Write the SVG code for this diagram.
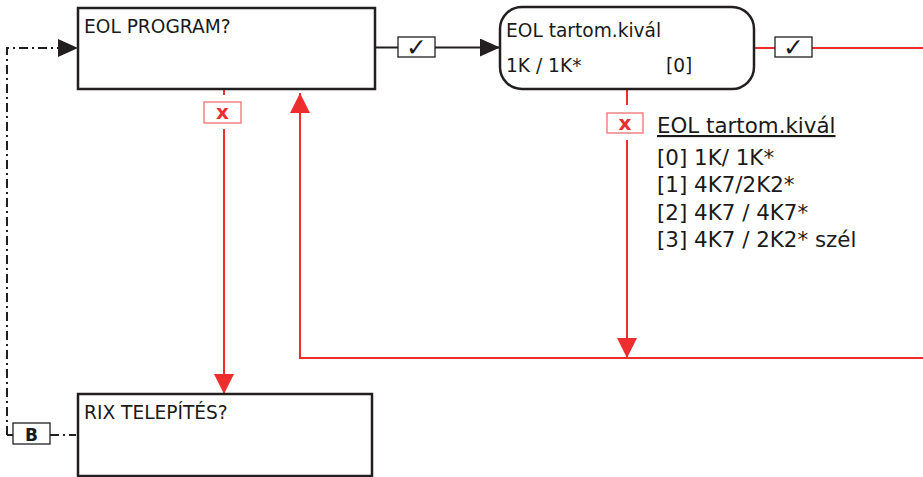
<svg xmlns="http://www.w3.org/2000/svg" width="923" height="477" viewBox="0 0 923 477">
<style>
.t{font-family:"DejaVu Sans",Verdana,sans-serif;font-size:18.6px;fill:#1a1a1a}
.lg{font-family:"DejaVu Sans",Verdana,sans-serif;font-size:21.4px;fill:#1a1a1a}
.box{fill:#fff;stroke:#231f20;stroke-width:2.5}
.blk{stroke:#231f20;stroke-width:2;fill:none}
.red{stroke:#ee2e2e;stroke-width:2;fill:none}
.dd{stroke:#231f20;stroke-width:2;fill:none;stroke-dasharray:9 4 2 4}
.chk{fill:#fff;stroke:#231f20;stroke-width:1.3}
.xb{fill:#fff;stroke:#f07070;stroke-width:1.3}
.xt{font-family:"DejaVu Sans",Verdana,sans-serif;font-size:20px;font-weight:bold;fill:#ee2e2e}
.ct{font-family:"DejaVu Sans",sans-serif;font-size:25px;fill:#1a1a1a}
</style>
<defs>
<marker id="ab" viewBox="0 0 20 18" refX="20" refY="9" markerWidth="20" markerHeight="18" markerUnits="userSpaceOnUse" orient="auto"><path d="M0,0L20,9L0,18Z" fill="#231f20"/></marker>
<marker id="ar" viewBox="0 0 20 20" refX="20" refY="10" markerWidth="20" markerHeight="20" markerUnits="userSpaceOnUse" orient="auto"><path d="M0,0L20,10L0,20Z" fill="#ee2e2e"/></marker>
</defs>
<g id="connectors">
<path class="dd" d="M7,435V48H58"/>
<path d="M58,39L78,48L58,57Z" fill="#231f20"/>
<path class="dd" d="M50,435H76"/>
<path class="dd" d="M7,435H13"/>
<path class="blk" d="M375,47.5H398"/>
<path class="blk" d="M435,47.5H500" marker-end="url(#ab)"/>
<path class="red" d="M754,48H775"/>
<path class="red" d="M812,48H923"/>
<path class="red" d="M224,89V95"/>
<path class="red" d="M224,129V394" marker-end="url(#ar)"/>
<path class="red" d="M923,358H300V93" marker-end="url(#ar)"/>
<path class="red" d="M627,89V105"/>
<path class="red" d="M627,140V358" marker-end="url(#ar)"/>
<g id="chk1"><rect class="chk" x="398" y="37" width="37" height="20"/><text class="ct" x="416.5" y="56" text-anchor="middle">✓</text></g>
<g id="chk2"><rect class="chk" x="775" y="37" width="37" height="20"/><text class="ct" x="793.5" y="56" text-anchor="middle">✓</text></g>
<g id="x1"><rect class="xb" x="204" y="102" width="37" height="21"/><text class="xt" x="222.5" y="119" text-anchor="middle">x</text></g>
<g id="x2"><rect class="xb" x="607" y="113" width="36" height="20"/><text class="xt" x="625" y="130" text-anchor="middle">x</text></g>
<g id="bl"><rect class="chk" x="13" y="423" width="37" height="21"/><text x="31.5" y="440.5" text-anchor="middle" style="font-family:'DejaVu Sans',sans-serif;font-size:17px;font-weight:bold;fill:#1a1a1a">B</text></g>
</g>
<g id="eolprogram">
<rect class="box" x="78" y="8" width="297" height="81"/>
<text class="t" x="84" y="33">EOL PROGRAM?</text>
</g>
<g id="eoltartom">
<rect class="box" x="500" y="7" width="254" height="82" rx="22" ry="22"/>
<text class="t" x="506" y="37">EOL tartom.kivál</text>
<text class="t" x="506" y="72">1K / 1K*</text>
<text class="t" x="666" y="72">[0]</text>
</g>
<g id="rix">
<rect class="box" x="78" y="394" width="294" height="82"/>
<text class="t" x="84" y="419">RIX TELEPÍTÉS?</text>
</g>
<g id="legend">
<text class="lg" x="657" y="133" text-decoration="underline">EOL tartom.kivál</text>
<text class="lg" x="657" y="165">[0] 1K/ 1K*</text>
<text class="lg" x="657" y="192">[1] 4K7/2K2*</text>
<text class="lg" x="657" y="220">[2] 4K7 / 4K7*</text>
<text class="lg" x="657" y="247">[3] 4K7 / 2K2* szél</text>
</g>
</svg>
